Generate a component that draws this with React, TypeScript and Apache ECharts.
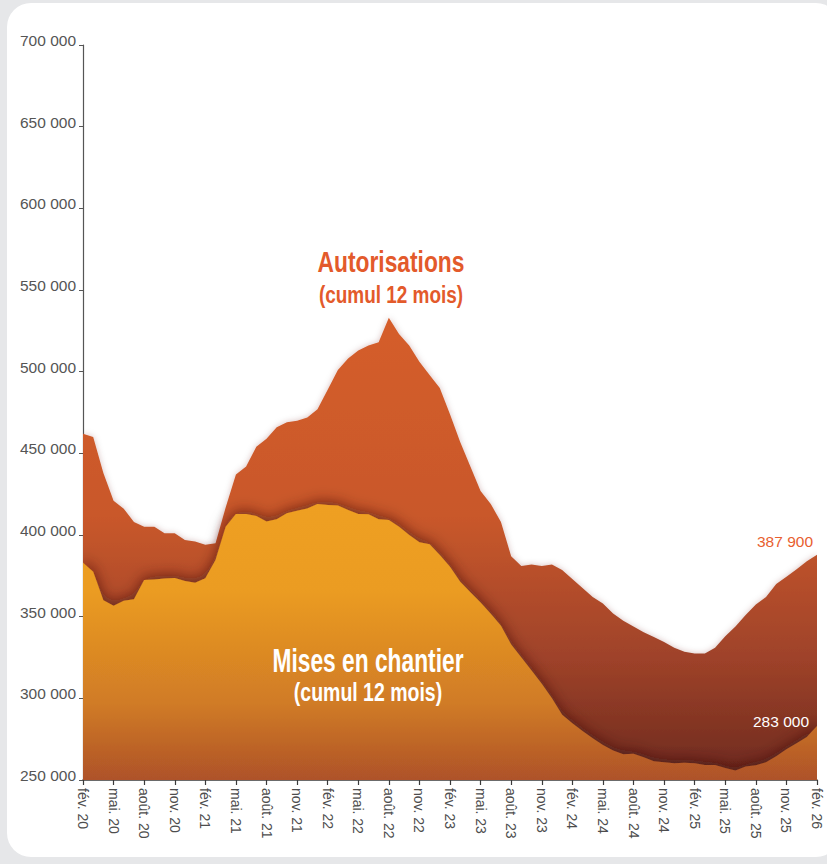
import React, { useEffect, useRef } from "react";
import * as echarts from "echarts";

// ---- Data ----
const MONTH_NAMES = ["janv.", "fév.", "mars", "avr.", "mai.", "juin", "juil.", "août.", "sept.", "oct.", "nov.", "déc."];
const START_MONTH_INDEX = 1; // fév.
const START_YEAR = 20;
const MONTH_COUNT = 73; // fév. 20 -> fév. 26

const categories: string[] = [];
for (let i = 0; i < MONTH_COUNT; i++) {
  const m = (START_MONTH_INDEX + i) % 12;
  const y = START_YEAR + Math.floor((START_MONTH_INDEX + i) / 12);
  categories.push(`${MONTH_NAMES[m]} ${y}`);
}

const autorisations = [
  462000, 460000, 438000, 421000, 416000, 408000, 405000, 405000, 401000, 401000,
  397000, 396000, 394000, 395000, 417000, 437000, 442000, 454000, 459000, 466000,
  469000, 470000, 472000, 477000, 489000, 501000, 508000, 513000, 516000, 518000,
  533000, 523000, 516000, 506000, 498000, 490000, 474000, 457000, 442000, 427000,
  419000, 408000, 387000, 381000, 382000, 381000, 382000, 378500, 373000, 367500,
  362000, 358000, 352000, 347500, 344000, 340500, 337500, 334500, 331000, 328500,
  327500, 327500, 331000, 338000, 344000, 351000, 357500, 362000, 370000, 374500,
  379000, 384000, 387900,
];

const misesEnChantier = [
  383000, 377500, 360000, 356700, 359800, 360600, 372500, 372800, 373300, 373700,
  371900, 370800, 373500, 384700, 405000, 412900, 412800, 411700, 408200, 409600,
  413300, 414900, 416300, 419000, 418400, 418000, 415300, 412900, 412700, 409600,
  409200, 405100, 400000, 395500, 394300, 387800, 380600, 371400, 365000, 358700,
  351800, 344500, 333000, 325000, 317000, 309000, 300000, 290000, 284700, 280000,
  275600, 271500, 268000, 265800, 266000, 264000, 261500, 260800, 260300, 260500,
  260200, 259200, 259200, 257300, 255800, 258200, 259000, 260800, 264600, 268800,
  272500, 276300, 283000,
];

const Y_MIN = 250000;
const Y_MAX = 700000;
const Y_STEP = 50000;

const SERIES_NAMES = ["Autorisations", "Mises en chantier"];
const SUBTITLE = "(cumul 12 mois)";

const fmt = (v: number) => String(Math.round(v)).replace(/\B(?=(\d{3})+(?!\d))/g, " ");

const FONT = '"Liberation Sans", Arial, Helvetica, sans-serif';

export default function App() {
  const ref = useRef<HTMLDivElement>(null);

  useEffect(() => {
    if (!ref.current) return;
    const chart = echarts.init(ref.current, null, { renderer: "svg" });

    const redGradient = new echarts.graphic.LinearGradient(
      0, 300, 0, 780,
      [
        { offset: 0, color: "#D65E2C" },
        { offset: 0.45, color: "#C9582C" },
        { offset: 0.75, color: "#9E4229" },
        { offset: 1, color: "#6C291E" },
      ],
      true
    );
    const yellowGradient = new echarts.graphic.LinearGradient(
      0, 400, 0, 780,
      [
        { offset: 0, color: "#F3A41F" },
        { offset: 0.5, color: "#EB9C21" },
        { offset: 0.8, color: "#D07B26" },
        { offset: 1, color: "#AE5229" },
      ],
      true
    );

    const baseGraphic: any[] = [
      {
        id: "card",
        type: "rect",
        z: -10,
        silent: true,
        shape: { x: 7, y: 3, width: 833, height: 854, r: 24 },
        style: { fill: "#ffffff" },
      },
      {
        id: "t1",
        type: "text",
        z: 100,
        x: 391,
        y: 262,
        scaleX: 0.76,
        style: {
          text: SERIES_NAMES[0],
          fill: "#E35A2B",
          font: `bold 30px ${FONT}`,
          align: "center",
          verticalAlign: "middle",
        },
      },
      {
        id: "t1s",
        type: "text",
        z: 100,
        x: 391,
        y: 295,
        scaleX: 0.79,
        style: {
          text: SUBTITLE,
          fill: "#E35A2B",
          font: `bold 24px ${FONT}`,
          align: "center",
          verticalAlign: "middle",
        },
      },
      {
        id: "t2",
        type: "text",
        z: 100,
        x: 368,
        y: 660,
        scaleX: 0.69,
        style: {
          text: SERIES_NAMES[1],
          fill: "#ffffff",
          font: `bold 33px ${FONT}`,
          align: "center",
          verticalAlign: "middle",
        },
      },
      {
        id: "t2s",
        type: "text",
        z: 100,
        x: 368,
        y: 693,
        scaleX: 0.78,
        style: {
          text: SUBTITLE,
          fill: "#ffffff",
          font: `bold 25px ${FONT}`,
          align: "center",
          verticalAlign: "middle",
        },
      },
    ];

    chart.setOption({
      animation: false,
      backgroundColor: "#E6E7E9",
      grid: { left: 83, right: 10, top: 45, bottom: 84, containLabel: false },
      xAxis: {
        type: "category",
        data: categories,
        boundaryGap: false,
        axisLine: { show: true, lineStyle: { color: "#3a3a3a", width: 1.5 } },
        axisTick: {
          show: true,
          length: 5,
          interval: (i: number) => i % 3 === 0,
          lineStyle: { color: "#3a3a3a", width: 1.2 },
        },
        axisLabel: {
          show: true,
          interval: (i: number) => i % 3 === 0,
          rotate: -90,
          margin: 8,
          color: "#4d4d4d",
          fontSize: 14,
          fontFamily: FONT,
        },
        splitLine: { show: false },
      },
      yAxis: {
        type: "value",
        min: Y_MIN,
        max: Y_MAX,
        interval: Y_STEP,
        axisLine: { show: true, lineStyle: { color: "#555", width: 1.2 } },
        axisTick: { show: true, length: 4, lineStyle: { color: "#555", width: 1 } },
        axisLabel: {
          show: true,
          margin: 7,
          color: "#555555",
          fontSize: 15.5,
          fontFamily: FONT,
          verticalAlign: "bottom",
          lineHeight: 9,
          formatter: (v: number) => fmt(v),
        },
        splitLine: { show: false },
      },
      graphic: baseGraphic,
      series: [
        {
          name: SERIES_NAMES[0],
          type: "line",
          data: autorisations,
          symbol: "none",
          lineStyle: { width: 0 },
          areaStyle: {
            origin: "start",
            color: redGradient,
            opacity: 1,
            shadowColor: "rgba(90,40,20,0.25)",
            shadowBlur: 6,
          },
          z: 2,
        },
        {
          name: SERIES_NAMES[1],
          type: "line",
          data: misesEnChantier,
          symbol: "none",
          lineStyle: { width: 0 },
          areaStyle: {
            origin: "start",
            color: yellowGradient,
            opacity: 1,
            shadowColor: "rgba(60,18,8,0.6)",
            shadowBlur: 14,
            shadowOffsetY: -3,
          },
          z: 3,
        },
      ],
    });

    const last = MONTH_COUNT - 1;
    const pA = chart.convertToPixel({ gridIndex: 0 }, [last, autorisations[last]]) as number[];
    const pM = chart.convertToPixel({ gridIndex: 0 }, [last, misesEnChantier[last]]) as number[];

    chart.setOption({
      graphic: [
        ...baseGraphic,
        {
          id: "endA",
          type: "text",
          z: 100,
          x: pA[0] - 4,
          y: pA[1] - 13,
          style: {
            text: fmt(autorisations[last]),
            fill: "#E8602F",
            font: `15.5px ${FONT}`,
            align: "right",
            verticalAlign: "middle",
          },
        },
        {
          id: "endM",
          type: "text",
          z: 100,
          x: pM[0] - 8,
          y: pM[1] - 5,
          style: {
            text: fmt(misesEnChantier[last]),
            fill: "#ffffff",
            font: `15.5px ${FONT}`,
            align: "right",
            verticalAlign: "middle",
          },
        },
      ],
    });

    return () => {
      chart.dispose();
    };
  }, []);

  return (
    <div
      ref={ref}
      style={{ position: "absolute", left: 0, top: 0, width: 827, height: 864 }}
    />
  );
}
